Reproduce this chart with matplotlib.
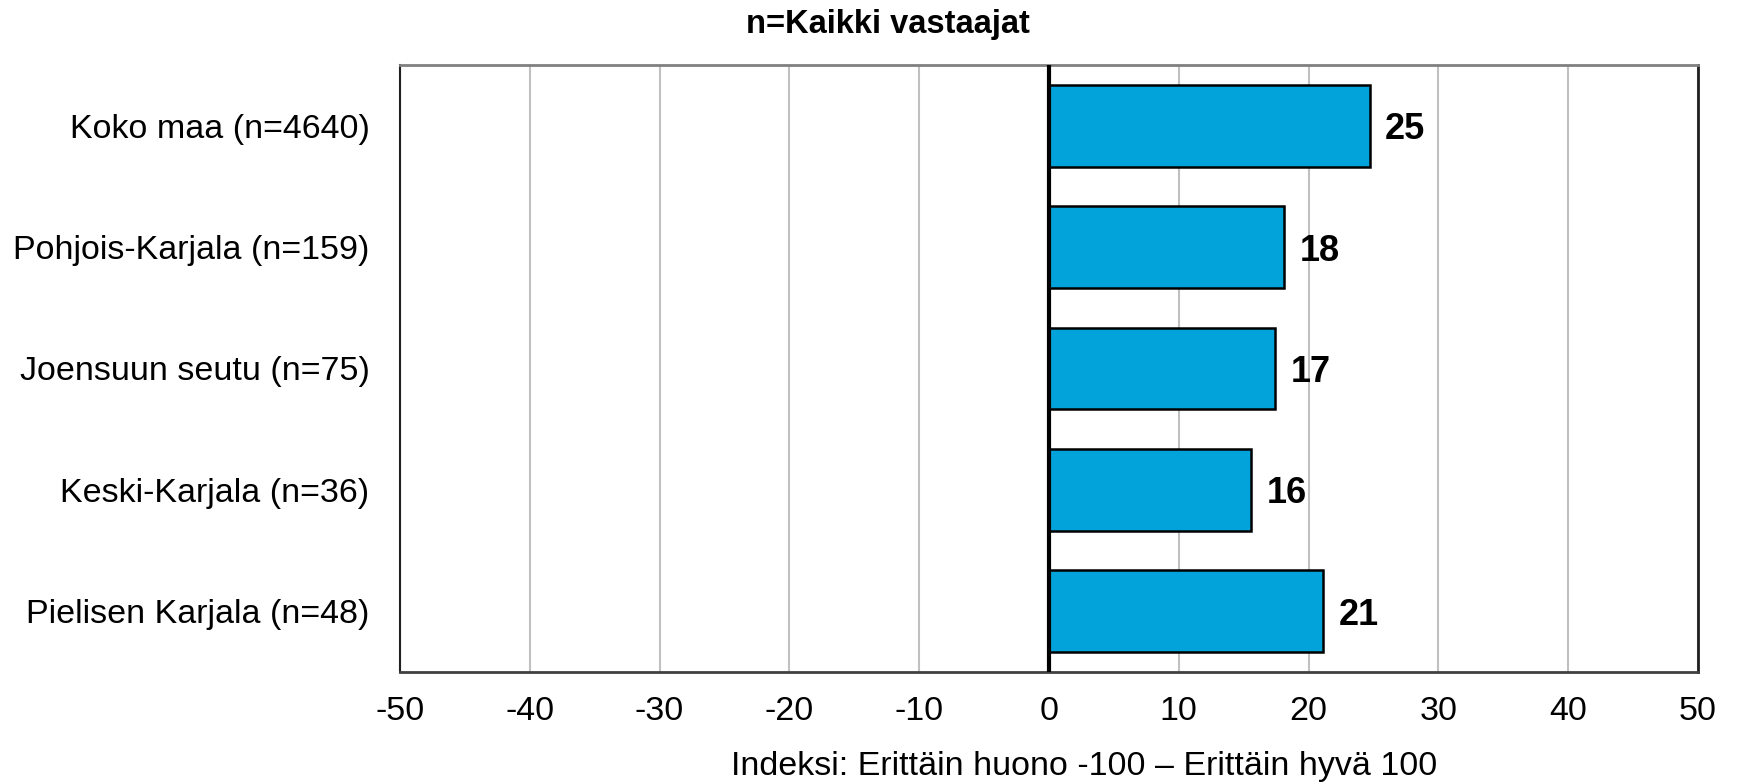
import matplotlib
matplotlib.use("Agg")
import matplotlib.pyplot as plt

plt.rcParams["font.family"] = ["Liberation Sans", "DejaVu Sans"]

categories = [
    "Koko maa (n=4640)",
    "Pohjois-Karjala (n=159)",
    "Joensuun seutu (n=75)",
    "Keski-Karjala (n=36)",
    "Pielisen Karjala (n=48)",
]
values = [24.7, 18.1, 17.4, 15.6, 21.1]
labels = ["25", "18", "17", "16", "21"]
xticks = [-50, -40, -30, -20, -10, 0, 10, 20, 30, 40, 50]

fig = plt.figure(figsize=(17.37, 7.83), dpi=100)
ax = fig.add_axes([400 / 1737, 1 - 672 / 783, 1298 / 1737, 607 / 783])

y = list(range(len(categories)))
ax.barh(y, values, height=0.675, color="#02A3DB", edgecolor="black", linewidth=1.8, zorder=3)

for yi, v, lab in zip(y, values, labels):
    ax.text(v + 1.2, yi, lab, va="center_baseline", ha="left", fontsize=26, fontweight="bold", zorder=4)

ax.set_xlim(-50, 50)
ax.set_ylim(len(categories) - 0.5, -0.5)
ax.set_xticks(xticks)
ax.set_xticklabels([str(t) for t in xticks])
ax.set_yticks(y)
ax.set_yticklabels(categories)
ax.tick_params(axis="both", length=0, labelsize=24.5)
ax.tick_params(axis="y", pad=22)
ax.tick_params(axis="x", pad=17)

ax.grid(axis="x", color="#c0c0c0", linewidth=1.5, zorder=0)
ax.axvline(0, color="black", linewidth=3, zorder=5)

ax.spines["top"].set_color("#808080")
ax.spines["top"].set_linewidth(2)
ax.spines["bottom"].set_color("#404040")
ax.spines["bottom"].set_linewidth(2)
ax.spines["left"].set_color("#202020")
ax.spines["left"].set_linewidth(1.5)
ax.spines["right"].set_color("#202020")
ax.spines["right"].set_linewidth(2)

fig.text(888 / 1737, 1 - 25 / 783, "n=Kaikki vastaajat", ha="center", va="center",
         fontsize=23.5, fontweight="bold")
fig.text(1084 / 1737, 1 - 766 / 783, "Indeksi: Erittäin huono -100 – Erittäin hyvä 100",
         ha="center", va="center", fontsize=24.5)

fig.savefig("out.png", dpi=100)
